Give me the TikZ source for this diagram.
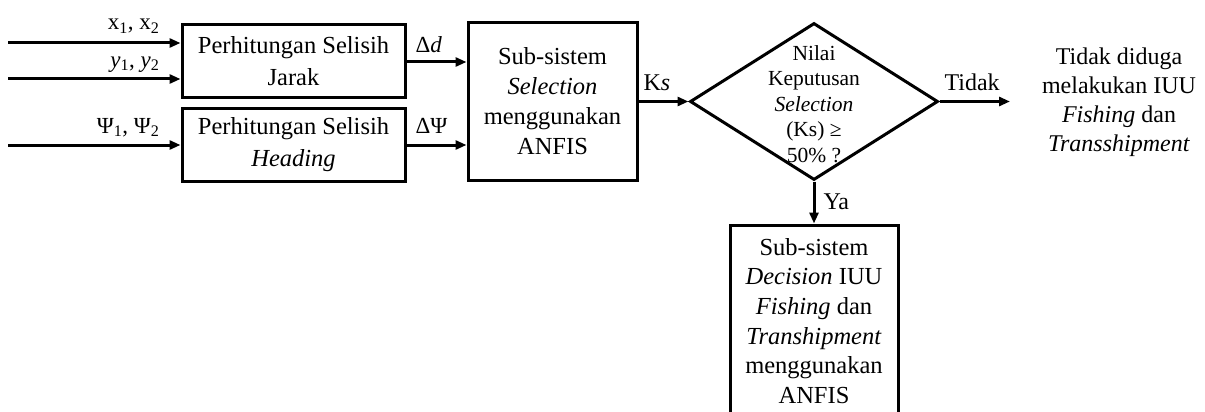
\documentclass[tikz,border=0pt]{standalone}
\usepackage{fontspec}
\setmainfont{Liberation Serif}
\usetikzlibrary{arrows.meta,shapes.geometric}
\begin{document}
\begin{tikzpicture}[x=1pt,y=-1pt,
  line width=3pt,
  arr/.style={-{Triangle[length=11pt,width=9pt]}},
  blk/.style={draw,rectangle,inner sep=0pt,align=center},
  lbl/.style={inner sep=0pt,font=\fontsize{23}{26}\selectfont},
]
\useasboundingbox (0,0) rectangle (1205,412);
\begin{scope}
\clip (0,0) rectangle (1205,412);
% blocks
\node[blk,minimum width=223pt,minimum height=72pt,font=\fontsize{24.5}{32}\selectfont] (b1) at (293.5,61) {Perhitungan Selisih\\Jarak};
\node[blk,minimum width=223pt,minimum height=73pt,font=\fontsize{24.5}{32}\selectfont] (b2) at (293.5,144.5) {Perhitungan Selisih\\\textit{Heading}};
\node[blk,minimum width=169pt,minimum height=157pt,font=\fontsize{24.5}{30}\selectfont] (b3) at (552.5,101.5) {Sub-sistem\\\textit{Selection}\\menggunakan\\ANFIS};
\node[draw,diamond,inner sep=0pt,minimum width=248pt,minimum height=157pt] (dec) at (814,101.5) {};
\node[inner sep=0pt,align=center,font=\fontsize{21.5}{25.5}\selectfont] (dect) at (814,104) {Nilai\\Keputusan\\\textit{Selection}\\(Ks) ≥\\50\% ?};
\node[blk,minimum width=168pt,minimum height=192pt,font=\fontsize{24.5}{29.6}\selectfont] (b4) at (814,321) {Sub-sistem\\\textit{Decision} IUU\\\textit{Fishing} dan\\\textit{Transhipment}\\menggunakan\\ANFIS};
\node[inner sep=0pt,align=center,font=\fontsize{24}{29}\selectfont] (res) at (1119,102) {Tidak diduga\\melakukan IUU\\\textit{Fishing} dan\\\textit{Transshipment}};
% coordinates
\coordinate (i1) at (8,43);
\coordinate (i2) at (8,79);
\coordinate (i3) at (8,145);
\coordinate (dd) at (430,62);
\coordinate (dp) at (430,145);
\coordinate (out) at (1010,101.5);
% connectors
\draw[arr] (i1) -- (i1 -| b1.west);
\draw[arr] (i2) -- (i2 -| b1.west);
\draw[arr] (i3) -- (i3 -| b2.west);
\draw[arr] (dd -| b1.east) -- (dd -| b3.west);
\draw[arr] (dp -| b2.east) -- (dp -| b3.west);
\draw[arr] (b3.east) -- (dec.west);
\draw[arr] (dec.east) -- (out);
\draw[arr] (dec.south) -- (b4.north);
% labels
\node[lbl,anchor=base east] (lx) at (161,30) {x\textsubscript{1}, x\textsubscript{2}};
\node[lbl,anchor=base east] (ly) at (161,67) {\textit{y}\textsubscript{1}, \textit{y}\textsubscript{2}};
\node[lbl,anchor=base east] (lp) at (161,133) {Ψ\textsubscript{1}, Ψ\textsubscript{2}};
\node[lbl,anchor=base west] (ld) at (414,53) {Δ\textit{d}};
\node[lbl,anchor=base west] (lpsi) at (414,133) {ΔΨ};
\node[lbl,anchor=base west,font=\fontsize{24}{26}\selectfont] (lks) at (642,91) {K\textit{s}};
\node[lbl,anchor=base west,font=\fontsize{24}{26}\selectfont] (ltd) at (943,91) {Tidak};
\node[lbl,anchor=base west,font=\fontsize{24}{26}\selectfont] (lya) at (822,209) {Ya};
\end{scope}
\end{tikzpicture}
\end{document}
